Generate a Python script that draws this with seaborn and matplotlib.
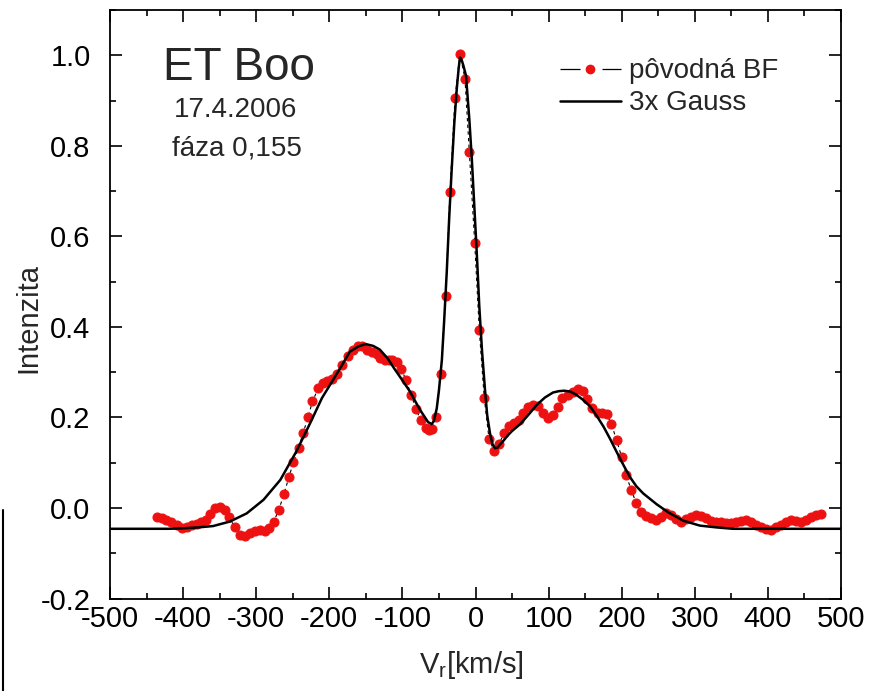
import numpy as np
import pandas as pd
import matplotlib
matplotlib.use("Agg")
import matplotlib.pyplot as plt
from matplotlib.ticker import MultipleLocator, FormatStrFormatter
from matplotlib.lines import Line2D
import seaborn as sns

# ---- data: original broadening function (red points) ----
bf_v = [-436, -429, -423, -416, -409, -402, -395, -388, -381, -375, -369, -363,
        -356, -350, -343, -337, -329, -322, -315, -308, -302, -295, -288, -282,
        -276, -269, -262, -255, -249, -242, -236, -229, -223, -215, -209, -203,
        -196, -189, -182, -175, -168, -161, -155, -148, -141, -135, -130, -124,
        -118, -114, -108, -102, -95, -88, -81, -75, -68, -63, -59, -54, -47.6,
        -40.8, -35, -28, -21.2, -14.4, -8.5, -1.1, 5.2, 12, 18.5, 25.3, 32.6, 39,
        45.8, 52.7, 59.5, 65.4, 72.2, 79, 86, 92.7, 99.6, 106, 113, 119, 126, 133,
        140, 147, 153, 160, 167, 173.5, 179.5, 186, 193, 200, 206, 213, 219.6, 226,
        233, 240, 247, 254, 261, 267, 274, 281, 288, 295, 301.6, 308.5, 315, 322,
        329, 336, 343, 349.5, 356, 363, 370, 377, 384, 390.6, 397.4, 404, 411, 418,
        424.5, 431.6, 438.4, 445, 452, 459, 466, 472.6]
bf_i = [-0.019, -0.022, -0.026, -0.030, -0.037, -0.045, -0.041, -0.037, -0.035,
        -0.030, -0.026, -0.013, 0.000, 0.003, -0.004, -0.021, -0.043, -0.059,
        -0.063, -0.056, -0.050, -0.048, -0.050, -0.045, -0.030, -0.004, 0.031,
        0.069, 0.102, 0.132, 0.165, 0.200, 0.236, 0.264, 0.277, 0.280, 0.285,
        0.297, 0.315, 0.335, 0.350, 0.358, 0.357, 0.350, 0.345, 0.340, 0.332,
        0.327, 0.327, 0.327, 0.323, 0.308, 0.283, 0.249, 0.218, 0.194, 0.177,
        0.172, 0.174, 0.202, 0.295, 0.468, 0.697, 0.906, 1.003, 0.948, 0.786,
        0.586, 0.393, 0.242, 0.153, 0.126, 0.142, 0.166, 0.180, 0.187, 0.194,
        0.209, 0.222, 0.227, 0.225, 0.210, 0.199, 0.205, 0.224, 0.242, 0.250,
        0.257, 0.263, 0.258, 0.240, 0.220, 0.209, 0.209, 0.207, 0.185, 0.150,
        0.112, 0.073, 0.040, 0.012, -0.008, -0.017, -0.022, -0.026, -0.019,
        -0.012, -0.015, -0.025, -0.030, -0.025, -0.019, -0.015, -0.017, -0.022,
        -0.028, -0.032, -0.032, -0.034, -0.034, -0.032, -0.028, -0.026, -0.032,
        -0.037, -0.042, -0.047, -0.048, -0.043, -0.037, -0.030, -0.026, -0.028,
        -0.030, -0.026, -0.020, -0.015, -0.014]

# ---- data: 3x Gauss fit (black curve) ----
fit_v = [-500, -450, -420, -400, -380, -359, -336, -313, -290, -267, -245, -226,
         -210, -199, -185, -172, -160, -150, -140, -131, -120, -112, -100, -90,
         -76, -65, -60, -57, -53, -50, -46, -43, -39.4, -36, -32.6, -29, -25.7,
         -23, -21.2, -19, -16.7, -13, -8.5, -5, -1.6, 2, 5.2, 9, 13, 16, 19.8, 23,
         26.7, 30, 33.5, 38, 44, 50, 61, 72, 84, 95, 106, 114, 121.5, 130, 138,
         147, 157, 166, 175, 184, 193, 202, 211, 220, 229.5, 248, 264, 284, 307,
         330, 352, 400, 500]
fit_i = [-0.046, -0.046, -0.046, -0.045, -0.043, -0.040, -0.030, -0.012, 0.018,
         0.062, 0.125, 0.188, 0.243, 0.272, 0.309, 0.345, 0.357, 0.362, 0.358,
         0.350, 0.330, 0.310, 0.282, 0.258, 0.217, 0.190, 0.185, 0.192, 0.220,
         0.260, 0.327, 0.410, 0.519, 0.640, 0.747, 0.850, 0.924, 0.972, 0.995,
         0.990, 0.978, 0.955, 0.860, 0.770, 0.666, 0.555, 0.445, 0.345, 0.261,
         0.205, 0.165, 0.142, 0.132, 0.133, 0.140, 0.148, 0.160, 0.170, 0.185,
         0.205, 0.228, 0.244, 0.255, 0.258, 0.259, 0.257, 0.250, 0.239, 0.224,
         0.203, 0.180, 0.153, 0.124, 0.096, 0.069, 0.048, 0.032, 0.008, -0.010,
         -0.028, -0.039, -0.043, -0.046, -0.046, -0.046]

title_star = "ET Boo"
title_date = "17.4.2006"
title_phase = "fáza 0,155"
label_bf = "pôvodná BF"
label_fit = "3x Gauss"
x_label = r"V$_\mathregular{r}$[km/s]"
y_label = "Intenzita"

bf_df = pd.DataFrame({"v": bf_v, "i": bf_i})
fit_df = pd.DataFrame({"v": fit_v, "i": fit_i})

sns.set_style("ticks")
plt.rcParams["font.family"] = ["Liberation Sans", "DejaVu Sans"]
plt.rcParams["mathtext.fontset"] = "custom"
plt.rcParams["mathtext.rm"] = "Liberation Sans"
plt.rcParams["mathtext.it"] = "Liberation Sans"
plt.rcParams["axes.unicode_minus"] = False

fig = plt.figure(figsize=(8.73, 6.91), dpi=100)
ax = fig.add_axes([110 / 873, 1 - 598.5 / 691, 731 / 873, 588.5 / 691])

sns.lineplot(data=bf_df, x="v", y="i", ax=ax, sort=False, estimator=None,
             color="black", linewidth=0.8, linestyle=(0, (3, 3)),
             marker="o", markersize=6.5, markerfacecolor="#ee1111",
             markeredgecolor="#ee1111", zorder=2)
sns.lineplot(data=fit_df, x="v", y="i", ax=ax, sort=False, estimator=None,
             color="black", linewidth=1.8, zorder=3)

ax.set_xlim(-500, 500)
ax.set_ylim(-0.2, 1.1)
ax.xaxis.set_major_locator(MultipleLocator(100))
ax.xaxis.set_minor_locator(MultipleLocator(50))
ax.yaxis.set_major_locator(MultipleLocator(0.2))
ax.yaxis.set_minor_locator(MultipleLocator(0.1))
ax.yaxis.set_major_formatter(FormatStrFormatter("%.1f"))
ax.xaxis.set_major_formatter(FormatStrFormatter("%d"))

ax.tick_params(which="both", direction="in", top=True, right=True,
               width=1.2, colors="black", labelsize=21)
ax.tick_params(which="major", length=8.5)
ax.tick_params(which="minor", length=4.3)
ax.tick_params(axis="y", pad=14)
ax.tick_params(axis="x", pad=5)
for s in ax.spines.values():
    s.set_linewidth(1.3)
    s.set_color("black")

ax.set_xlabel(x_label, fontsize=21)
ax.set_ylabel(y_label, fontsize=21)
ax.xaxis.set_label_coords(0.495, -0.085)
ax.yaxis.set_label_coords(-0.093, 0.477)

ax.text(0.1765, 0.901, title_star, transform=ax.transAxes, fontsize=33,
        ha="center", va="center")
ax.text(0.172, 0.830, title_date, transform=ax.transAxes, fontsize=20,
        ha="center", va="center")
ax.text(0.174, 0.7655, title_phase, transform=ax.transAxes, fontsize=20,
        ha="center", va="center")

h1 = Line2D([], [], color="black", linewidth=0.9, linestyle=(0, (16, 17.6)),
            marker="o", markersize=6, markerfacecolor="#ee1111",
            markeredgecolor="#ee1111")
h2 = Line2D([], [], color="black", linewidth=1.8)
ax.legend([h1, h2], [label_bf, label_fit], loc="upper left",
          bbox_to_anchor=(0.615, 0.918), frameon=False, fontsize=20,
          handlelength=2.2, handletextpad=0.3, labelspacing=0.22,
          borderpad=0, borderaxespad=0, numpoints=1)

# cropped-edge artifact at the far left of the original image
fig.add_artist(Line2D([3 / 873, 3 / 873], [0, 1 - 510 / 691],
                      transform=fig.transFigure, color="black", linewidth=1.5))

fig.savefig("out.png", dpi=100)
